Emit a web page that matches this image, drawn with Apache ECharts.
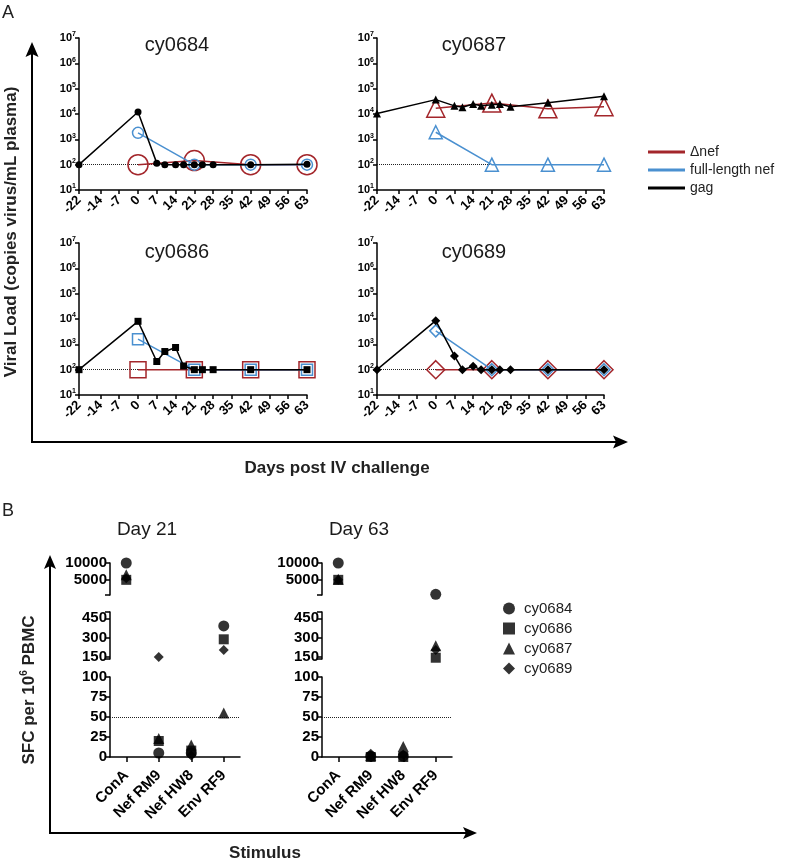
<!DOCTYPE html>
<html><head><meta charset="utf-8">
<script src="https://cdn.jsdelivr.net/npm/echarts@6/dist/echarts.min.js"></script>
<style>html,body{margin:0;padding:0;background:#fff}#c{width:794px;height:866px}</style>
</head><body><div id="c"></div>
<script>
// ---------- Panel A data ----------
const xTicksA = [-22, -14, -7, 0, 7, 14, 21, 28, 35, 42, 49, 56, 63];
const animalsA = ['cy0684', 'cy0687', 'cy0686', 'cy0689'];
const sampleDays = [-22, 0, 7, 10, 14, 17, 21, 24, 28, 42, 63];
const nefDays = [0, 21, 42, 63];

const cy0684_gag = [100, 12000, 115, 100, 100, 100, 100, 100, 100, 100, 105];
const cy0684_nef = [1800, 100, 100, 100];
const cy0684_dnef = [100, 145, 100, 100];

const cy0687_gag = [10500, 37000, 21000, 18500, 25000, 21000, 23000, 25000, 19500, 28000, 50000];
const cy0687_nef = [1900, 100, 100, 100];
const cy0687_dnef = [17000, 27000, 16000, 19500];

const cy0686_gag = [100, 8100, 210, 520, 750, 140, 100, 100, 100, 100, 100];
const cy0686_nef = [1600, 100, 100, 100];
const cy0686_dnef = [100, 100, 100, 100];

const cy0689_gag = [100, 8600, 350, 100, 135, 100, 100, 100, 100, 100, 100];
const cy0689_nef = [3400, 100, 100, 100];
const cy0689_dnef = [100, 100, 100, 100];

const seriesNamesA = ['\u0394nef', 'full-length nef', 'gag'];

// ---------- Panel B data ----------
const stimuli = ['ConA', 'Nef RM9', 'Nef HW8', 'Env RF9'];
const animalsB = ['cy0684', 'cy0686', 'cy0687', 'cy0689'];
const dayTitles = ['Day 21', 'Day 63'];
const day21_cy0684 = [10000, 5, 5, 390];
const day21_cy0686 = [5000, 20, 8, 285];
const day21_cy0687 = [6500, 23, 15, 55];
const day21_cy0689 = [5500, 145, 2, 200];
const day63_cy0684 = [10000, 1, 1, 700];
const day63_cy0686 = [5000, 0, 0, 140];
const day63_cy0687 = [5200, 2, 13, 235];
const day63_cy0689 = [5000, 4, 3, 200];
const segTicks = [[500, 5000, 10000], [130, 150, 300, 450, 500], [0, 25, 50, 75, 100]];
const segLabels = [[5000, 10000], [150, 300, 450], [0, 25, 50, 75, 100]];

// ---------- styles / layout ----------
const FONT = '"Liberation Sans", Arial, Helvetica, sans-serif';
const RED = '#a3262b';
const BLUE = '#4a90d0';
const BLACK = '#000';
const gridsA = [
  {left: 79, top: 38, width: 228, height: 152},
  {left: 377, top: 38, width: 227, height: 152},
  {left: 79, top: 243, width: 228, height: 152},
  {left: 377, top: 243, width: 227, height: 152}
];
const titlePosA = [[177, 45], [474, 45], [177, 252], [474, 252]];
const symA = ['circle', 'triangle', 'rect', 'diamond'];
const sizeGag = [7, 8, 7, 9];
const sizeNef = [11, 13, 11, 12];
const sizeDnef = [20, 18, 16, 18];
const dataA = {
  cy0684: [cy0684_dnef, cy0684_nef, cy0684_gag],
  cy0687: [cy0687_dnef, cy0687_nef, cy0687_gag],
  cy0686: [cy0686_dnef, cy0686_nef, cy0686_gag],
  cy0689: [cy0689_dnef, cy0689_nef, cy0689_gag]
};
const dataB = [
  [day21_cy0684, day21_cy0686, day21_cy0687, day21_cy0689],
  [day63_cy0684, day63_cy0686, day63_cy0687, day63_cy0689]
];
const symB = ['circle', 'rect', 'triangle', 'diamond'];
const sizeB = [11, 10, 11, 10];
const leftB = [110, 322];
const widthB = 130;
const segTop = [563, 612, 677];
const segH = [32, 47, 80];
const segRange = [[500, 10000], [130, 500], [0, 100]];

const zip = (xs, ys) => xs.map((x, i) => [x, ys[i]]);
const axisLineStyle = {color: BLACK, width: 1.5};

const option = {
  animation: false,
  backgroundColor: '#fff',
  grid: [], xAxis: [], yAxis: [], series: [],
  legend: [], graphic: []
};

// Panel A
animalsA.forEach((name, i) => {
  option.grid.push(gridsA[i]);
  option.xAxis.push({
    gridIndex: i, type: 'value', min: -22, max: 63,
    axisLine: {show: true, onZero: false, lineStyle: axisLineStyle},
    axisTick: {show: true, length: 4, customValues: xTicksA, lineStyle: axisLineStyle},
    axisLabel: {customValues: xTicksA, rotate: 45, fontSize: 13, fontWeight: 'bold', color: BLACK, fontFamily: FONT, margin: 8,
      formatter: v => String(v)},
    splitLine: {show: false}
  });
  option.yAxis.push({
    gridIndex: i, type: 'log', logBase: 10, min: 10, max: 10000000,
    axisLine: {show: true, onZero: false, lineStyle: axisLineStyle},
    axisTick: {show: true, length: 4, lineStyle: axisLineStyle},
    axisLabel: {
      margin: 3,
      formatter: v => '{b|10}{s|' + Math.round(Math.log10(v)) + '}',
      rich: {
        b: {fontSize: 11, fontWeight: 'bold', fontFamily: FONT, color: BLACK, lineHeight: 14},
        s: {fontSize: 7, fontWeight: 'bold', fontFamily: FONT, color: BLACK, lineHeight: 14, verticalAlign: 'top', padding: [0, 0, 6, 0]}
      }
    },
    splitLine: {show: false}
  });
  // dotted limit line
  option.series.push({
    type: 'line', xAxisIndex: i, yAxisIndex: i, data: [], silent: true,
    markLine: {silent: true, symbol: ['none', 'none'], z: 1, label: {show: false},
      lineStyle: {type: 'dotted', color: '#222', width: 1}, data: [{yAxis: 100}]}
  });
  const [dn, nf, gg] = dataA[name];
  option.series.push({
    type: 'line', name: seriesNamesA[0], xAxisIndex: i, yAxisIndex: i, clip: false, z: 2,
    data: zip(nefDays, dn), symbol: symA[i], symbolSize: sizeDnef[i], showAllSymbol: true,
    itemStyle: {color: 'rgba(255,255,255,0)', borderColor: RED, borderWidth: 1.5},
    lineStyle: {color: RED, width: 1.5}
  });
  option.series.push({
    type: 'line', name: seriesNamesA[1], xAxisIndex: i, yAxisIndex: i, clip: false, z: 3,
    data: zip(nefDays, nf), symbol: symA[i], symbolSize: sizeNef[i], showAllSymbol: true,
    itemStyle: {color: 'rgba(255,255,255,0)', borderColor: BLUE, borderWidth: 1.5},
    lineStyle: {color: BLUE, width: 1.5}
  });
  option.series.push({
    type: 'line', name: seriesNamesA[2], xAxisIndex: i, yAxisIndex: i, clip: false, z: 4,
    data: zip(sampleDays, gg), symbol: symA[i], symbolSize: sizeGag[i], showAllSymbol: true,
    itemStyle: {color: BLACK, borderWidth: 0},
    lineStyle: {color: BLACK, width: 1.5}
  });
  option.graphic.push({type: 'text', x: titlePosA[i][0], y: titlePosA[i][1], silent: true,
    style: {text: name, fill: '#1a1a1a', font: '20px ' + FONT, textAlign: 'center', textVerticalAlign: 'middle'}});
});

// Panel B
dayTitles.forEach((title, d) => {
  for (let s = 0; s < 3; s++) {
    const g = option.grid.length;
    option.grid.push({left: leftB[d], top: segTop[s], width: widthB, height: segH[s]});
    const isBottom = s === 2;
    option.xAxis.push({
      gridIndex: g, type: 'category', data: stimuli, boundaryGap: true, show: isBottom,
      axisLine: {show: isBottom, onZero: false, lineStyle: axisLineStyle},
      axisTick: {show: isBottom, alignWithLabel: true, length: 5, lineStyle: axisLineStyle},
      axisLabel: {show: isBottom, rotate: 45, fontSize: 15, fontWeight: 'bold', color: BLACK, fontFamily: FONT, margin: 16, interval: 0},
      splitLine: {show: false}
    });
    option.yAxis.push({
      gridIndex: g, type: 'value', min: segRange[s][0], max: segRange[s][1],
      axisLine: {show: true, onZero: false, lineStyle: axisLineStyle},
      axisTick: {show: true, length: 5, customValues: segTicks[s], lineStyle: axisLineStyle},
      axisLabel: {customValues: segLabels[s], fontSize: 15, fontWeight: 'bold', color: BLACK, fontFamily: FONT, margin: 3,
        formatter: v => String(v)},
      splitLine: {show: false}
    });
    if (isBottom) {
      option.series.push({
        type: 'line', xAxisIndex: g, yAxisIndex: g, data: [], silent: true,
        markLine: {silent: true, symbol: ['none', 'none'], z: 1, label: {show: false},
          lineStyle: {type: 'dotted', color: '#222', width: 1}, data: [{yAxis: 50}]}
      });
    }
    animalsB.forEach((an, a) => {
      const vals = dataB[d][a].map(v => {
        const seg = v >= 500 ? 0 : (v > 100 ? 1 : 2);
        return seg === s ? v : null;
      });
      option.series.push({
        type: 'scatter', name: an, xAxisIndex: g, yAxisIndex: g, clip: false,
        symbol: symB[a], symbolSize: sizeB[a], itemStyle: {color: BLACK}, data: vals, z: 3 + (3 - a)
      });
    });
  }
  option.graphic.push({type: 'text', x: leftB[d] + 37, y: 530, silent: true,
    style: {text: title, fill: '#1a1a1a', font: '19px ' + FONT, textAlign: 'center', textVerticalAlign: 'middle'}});
});

// legends
option.legend.push({
  orient: 'vertical', left: 643, top: 140, icon: 'rect', itemWidth: 37, itemHeight: 3, itemGap: 4,
  textStyle: {fontSize: 14, color: '#222', fontFamily: FONT, padding: [0, 0, 0, 0]},
  selectedMode: false,
  data: [
    {name: seriesNamesA[0], itemStyle: {color: RED, borderWidth: 0}},
    {name: seriesNamesA[1], itemStyle: {color: BLUE, borderWidth: 0}},
    {name: seriesNamesA[2], itemStyle: {color: BLACK, borderWidth: 0}}
  ]
});
option.legend.push({
  orient: 'vertical', left: 498, top: 596, itemWidth: 12, itemHeight: 12, itemGap: 5,
  textStyle: {fontSize: 15, color: '#222', fontFamily: FONT, padding: [0, 0, 0, 4]},
  selectedMode: false,
  data: animalsB.map((n, a) => ({name: n, icon: symB[a], itemStyle: {color: BLACK}}))
});

// decorative outer axes, arrows and texts
const arrowStyle = {stroke: BLACK, lineWidth: 2};
option.graphic.push(
  {type: 'text', x: 2, y: 4, style: {text: 'A', fill: '#222', font: '18px ' + FONT}},
  {type: 'text', x: 2, y: 502, style: {text: 'B', fill: '#222', font: '18px ' + FONT}},
  {type: 'line', shape: {x1: 32, y1: 443, x2: 32, y2: 52}, style: arrowStyle},
  {type: 'polygon', shape: {points: [[32, 42], [38.5, 57], [32, 54], [25.5, 57]]}, style: {fill: BLACK}},
  {type: 'line', shape: {x1: 31, y1: 442, x2: 618, y2: 442}, style: arrowStyle},
  {type: 'polygon', shape: {points: [[628, 442], [613, 435.5], [616, 442], [613, 448.5]]}, style: {fill: BLACK}},
  {type: 'line', shape: {x1: 50, y1: 834, x2: 50, y2: 564}, style: arrowStyle},
  {type: 'polygon', shape: {points: [[50, 555], [56, 569], [50, 566], [44, 569]]}, style: {fill: BLACK}},
  {type: 'line', shape: {x1: 49, y1: 833, x2: 468, y2: 833}, style: arrowStyle},
  {type: 'polygon', shape: {points: [[477, 833], [463, 827], [466, 833], [463, 839]]}, style: {fill: BLACK}},
  {type: 'text', x: 11, y: 232, rotation: Math.PI / 2,
    style: {text: 'Viral Load (copies virus/mL plasma)', fill: '#222', font: 'bold 17px ' + FONT, textAlign: 'center', textVerticalAlign: 'middle'}},
  {type: 'text', x: 337, y: 468,
    style: {text: 'Days post IV challenge', fill: '#222', font: 'bold 17px ' + FONT, textAlign: 'center', textVerticalAlign: 'middle'}},
  {type: 'text', x: 29, y: 690, rotation: Math.PI / 2,
    style: {text: '{a|SFC per 10}{s|6}{a| PBMC}', textAlign: 'center', textVerticalAlign: 'middle',
      rich: {a: {fill: '#222', font: 'bold 17px ' + FONT, lineHeight: 20},
             s: {fill: '#222', font: 'bold 10px ' + FONT, lineHeight: 20, verticalAlign: 'top', padding: [0, 0, 8, 0]}}}},
  {type: 'text', x: 265, y: 853,
    style: {text: 'Stimulus', fill: '#222', font: 'bold 17px ' + FONT, textAlign: 'center', textVerticalAlign: 'middle'}}
);

const chart = echarts.init(document.getElementById('c'), null, {renderer: 'canvas'});
chart.setOption(option);
</script>
</body></html>
